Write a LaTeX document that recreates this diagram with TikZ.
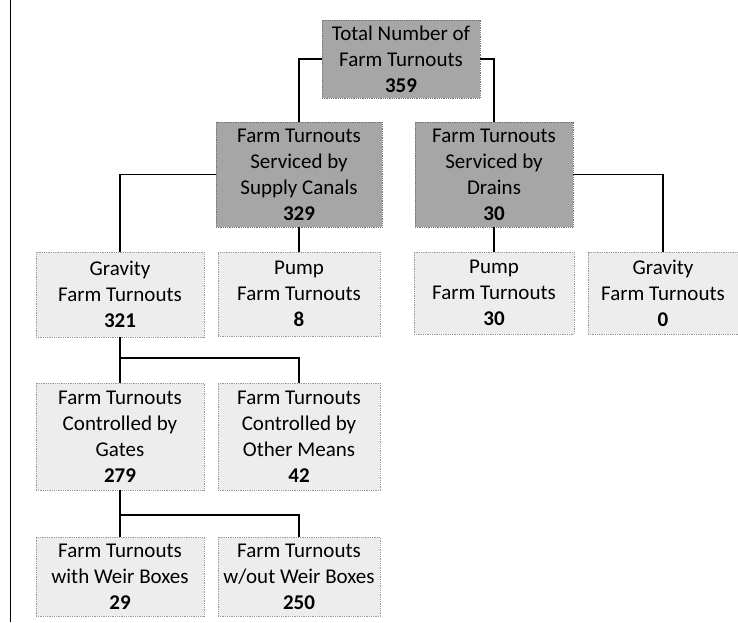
\documentclass[tikz,border=0pt]{standalone}
\usepackage{fontspec}
\setmainfont{Carlito}
\usepackage{tikz}

\begin{document}
\begin{tikzpicture}[x=1pt,y=-1pt,
		topbox/.style={rectangle,draw=black!55,densely dotted,line width=0.8pt,fill=black!35,align=center,inner sep=0pt,font=\fontsize{21}{26}\selectfont},
		subbox/.style={topbox,fill=black!7,draw=black!40},
		link/.style={line width=1.8pt,solid}]
		
		\useasboundingbox (0,0) rectangle (738,622);
		
		% Margin rule on the left
		\draw[line width=1pt] (10,0) -- (10,622);
		
		% Total
		\node[topbox,minimum width=158,minimum height=78] (total) at (401,59)
		{Total Number of\\Farm Turnouts\\\textbf{359}};
		
		% Supply canals and drains
		\node[topbox,minimum width=166,minimum height=105] (supply) at (299,174.5)
		{Farm Turnouts\\Serviced by\\Supply Canals\\\textbf{329}};
		\node[topbox,minimum width=158,minimum height=105] (drains) at (494,174.5)
		{Farm Turnouts\\Serviced by\\Drains\\\textbf{30}};
		
		% Gravity / pump row
		\node[subbox,minimum width=168,minimum height=85] (gravS) at (120,294.5)
		{Gravity\\Farm Turnouts\\\textbf{321}};
		\node[subbox,minimum width=162,minimum height=84] (pumpS) at (299,294)
		{Pump\\Farm Turnouts\\\textbf{8}};
		\node[subbox,minimum width=160,minimum height=82] (pumpD) at (494,293)
		{Pump\\Farm Turnouts\\\textbf{30}};
		\node[subbox,minimum width=150,minimum height=82] (gravD) at (663,293)
		{Gravity\\Farm Turnouts\\\textbf{0}};
		
		% Control row
		\node[subbox,minimum width=168,minimum height=107] (gates) at (120,436.5)
		{Farm Turnouts\\Controlled by\\Gates\\\textbf{279}};
		\node[subbox,minimum width=162,minimum height=107] (other) at (299,436.5)
		{Farm Turnouts\\Controlled by\\Other Means\\\textbf{42}};
		
		% Weir box row
		\node[subbox,minimum width=168,minimum height=79] (weir) at (120,576.5)
		{Farm Turnouts\\with Weir Boxes\\\textbf{29}};
		\node[subbox,minimum width=162,minimum height=79] (noweir) at (299,576.5)
		{Farm Turnouts\\w/out Weir Boxes\\\textbf{250}};
		
		% Connectors
		\draw[link] (total.west) -| (supply.north);
		\draw[link] (total.east) -| (drains.north);
		\draw[link] (supply.west) -| (gravS.north);
		\draw[link] (supply.south) -- (pumpS.north);
		\draw[link] (drains.south) -- (pumpD.north);
		\draw[link] (drains.east) -| (gravD.north);
		
		\coordinate (gsplit) at (120,358);
		\draw[link] (gravS.south) -- (gates.north);
		\draw[link] (gsplit) -| (other.north);
		
		\coordinate (wsplit) at (120,515);
		\draw[link] (gates.south) -- (weir.north);
		\draw[link] (wsplit) -| (noweir.north);
		
	\end{tikzpicture}
\end{document}
